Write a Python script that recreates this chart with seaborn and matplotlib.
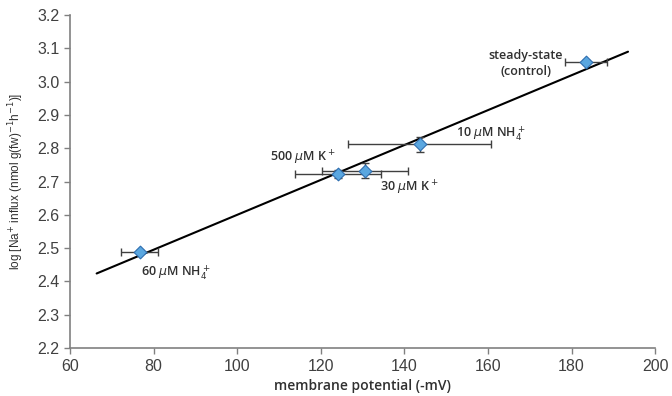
import matplotlib
matplotlib.use("Agg")
import matplotlib.pyplot as plt
import seaborn as sns
import pandas as pd

# data
conditions = ["60 µM NH4+", "500 µM K+", "30 µM K+", "10 µM NH4+", "steady-state (control)"]
potential = [76.7, 124.1, 130.6, 143.7, 183.5]
log_influx = [2.49, 2.722, 2.733, 2.812, 3.058]
potential_err = [4.4, 10.2, 10.3, 17.1, 5.0]
influx_err = [0.005, 0.012, 0.022, 0.022, 0.006]
fit_x = [66.4, 193.5]
fit_y = [2.424, 3.090]
labels = [r"60 $\mu$M NH$_4^+$", r"500 $\mu$M K$^+$", r"30 $\mu$M K$^+$",
          r"10 $\mu$M NH$_4^+$", "steady-state\n(control)"]
x_ticks = [60, 80, 100, 120, 140, 160, 180, 200]
y_ticks = [2.2, 2.3, 2.4, 2.5, 2.6, 2.7, 2.8, 2.9, 3.0, 3.1, 3.2]

sns.set_theme(style="ticks")
plt.rcParams["font.family"] = ["Liberation Sans", "DejaVu Sans"]
plt.rcParams["mathtext.fontset"] = "dejavusans"

df = pd.DataFrame({"x": potential, "y": log_influx})
fit = pd.DataFrame({"x": fit_x, "y": fit_y})

fig = plt.figure(figsize=(6.72, 3.96), dpi=100)
ax = fig.add_axes([0.104, 0.121, 0.871, 0.841])

sns.lineplot(data=fit, x="x", y="y", ax=ax, color="black", linewidth=1.5)
ax.errorbar(potential, log_influx, xerr=potential_err, yerr=influx_err, fmt="none",
            ecolor="#404040", elinewidth=1.0, capsize=3, capthick=1.0, zorder=3)
sns.scatterplot(data=df, x="x", y="y", ax=ax, marker="D", s=42, color="#5aa7e0",
                edgecolor="#2f6fb0", linewidth=0.8, zorder=4)

txt_kw = dict(fontsize=9, color="#303030", fontfamily=["Open Sans", "DejaVu Sans"],
              fontweight="semibold")
ax.text(77.1, 2.427, labels[0], ha="left", va="center", **txt_kw)
ax.text(123.6, 2.772, labels[1], ha="right", va="center", **txt_kw)
ax.text(134.2, 2.682, labels[2], ha="left", va="center", **txt_kw)
ax.text(152.3, 2.844, labels[3], ha="left", va="center", **txt_kw)
ax.text(169, 3.054, labels[4], ha="center", va="center", linespacing=1.3, **txt_kw)

ax.set_xlim(60, 200)
ax.set_ylim(2.2, 3.2)
ax.set_xticks(x_ticks)
ax.set_yticks(y_ticks)
ax.set_yticklabels([f"{v:.1f}" for v in y_ticks])
ax.tick_params(axis="both", labelsize=11.5, colors="#404040", length=4, width=1,
               direction="out", color="#808080")
for sp in ("left", "bottom"):
    ax.spines[sp].set_color("#808080")
    ax.spines[sp].set_linewidth(1.2)
sns.despine(ax=ax)

ax.set_xlabel("membrane potential (-mV)", fontsize=10, color="#303030",
              fontfamily=["Open Sans", "DejaVu Sans"], fontweight="semibold", labelpad=4)
ax.set_ylabel(r"log [Na$^{+}$ influx (nmol g(fw)$^{-1}$h$^{-1}$)]", fontsize=8.5,
              color="#303030", labelpad=8)

fig.savefig("out.png", dpi=100)
